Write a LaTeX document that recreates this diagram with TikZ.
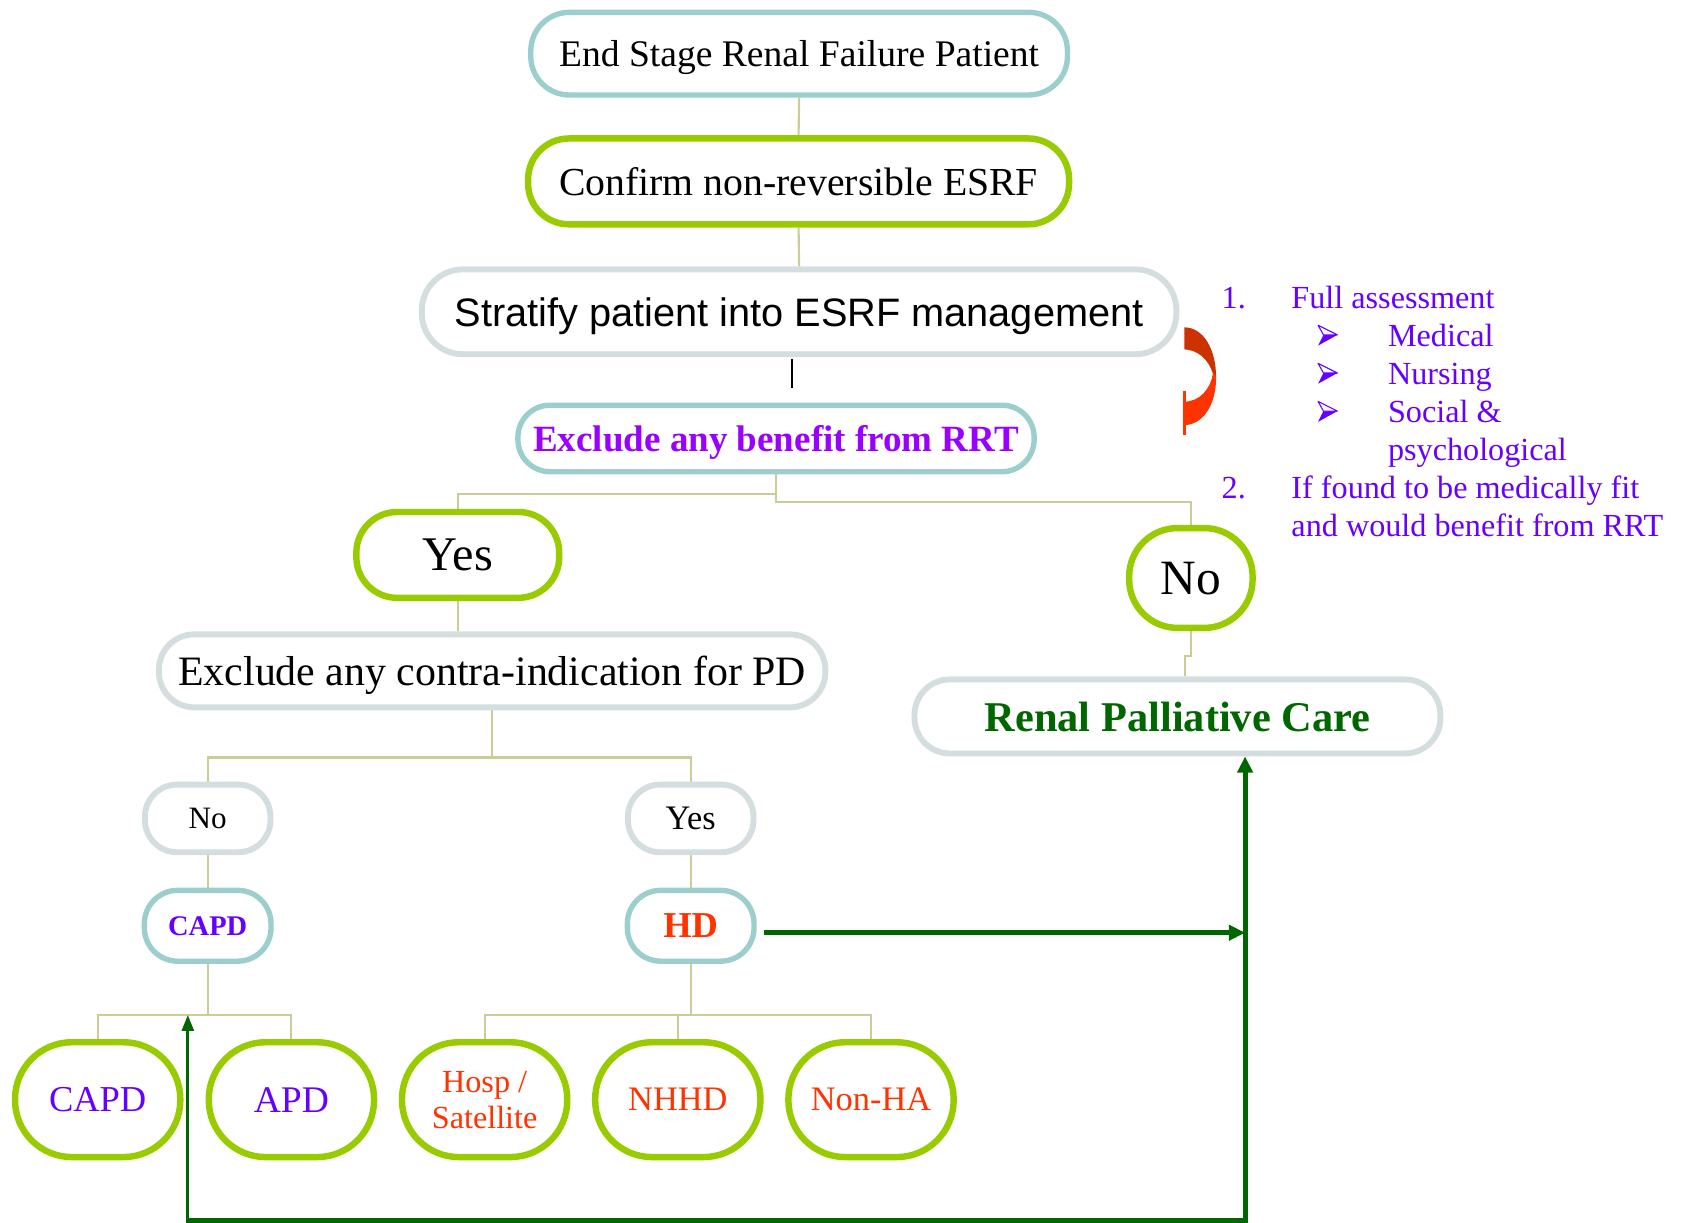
\documentclass[tikz,border=0pt]{standalone}
\usepackage{fontspec}
\setmainfont{Liberation Serif}
\setsansfont{Liberation Sans}
\usetikzlibrary{arrows.meta,backgrounds}

\definecolor{tealline}{HTML}{9CCECE}
\definecolor{limeline}{HTML}{99CC00}
\definecolor{greyline}{HTML}{D5DEDE}
\definecolor{linkline}{HTML}{CCCC99}
\definecolor{txtviolet}{HTML}{9900FF}
\definecolor{txtindigo}{HTML}{6600FF}
\definecolor{txtred}{HTML}{FF3300}
\definecolor{dkgreen}{HTML}{006600}
\definecolor{arcdark}{HTML}{CC3300}
\definecolor{arclight}{HTML}{FF3300}

\newcommand{\fsz}[1]{\fontsize{#1}{#1}\selectfont}

\begin{document}
\begin{tikzpicture}[x=1pt,y=-1pt,
  pill/.style={draw, fill=white, inner sep=0pt, align=center, text=black, text depth=0pt},
  tealpill/.style={pill, draw=tealline, line width=5pt},
  limepill/.style={pill, draw=limeline, line width=6pt},
  greypill/.style={pill, draw=greyline, line width=5.5pt},
  leaf/.style={limepill, minimum width=154pt, minimum height=107pt, rounded corners=53pt},
  link/.style={draw=linkline, line width=2pt},
  flow/.style={draw=dkgreen, line width=4.5pt, -{Triangle[length=15pt,width=14pt]}},
  listtxt/.style={anchor=base west, inner sep=0pt, text=txtindigo, font=\fsz{30}},
  pics/arrowbullet/.style={code={
    \fill[txtindigo] (0,0) -- (-13,0) -- (-18,10) -- cycle;
    \draw[txtindigo, line width=1pt, line join=round, fill=white] (0,0) -- (-18,-9) -- (-13,0) -- cycle;
  }}
]
\useasboundingbox (0,0) rectangle (1568,1139);

% main column
\node[tealpill, minimum width=500pt, minimum height=77pt, rounded corners=36pt, font=\fsz{35}]
  (esrf) at (744.5,50) {End Stage Renal Failure Patient};
\node[limepill, minimum width=504pt, minimum height=80pt, rounded corners=38pt, font=\fsz{37}]
  (confirm) at (744,169) {Confirm non-reversible ESRF};
\node[greypill, minimum width=703pt, minimum height=79pt, rounded corners=38pt, font=\sffamily\fsz{37}]
  (stratify) at (744.5,290.5) {Stratify patient into ESRF management};
\node[tealpill, minimum width=481pt, minimum height=62pt, rounded corners=30pt, font=\bfseries\fsz{34.5}, text=txtviolet]
  (benefit) at (723,408.5) {Exclude any benefit from RRT};

% first decision
\node[limepill, minimum width=189pt, minimum height=80pt, rounded corners=38pt, font=\fsz{45}]
  (yesrrt) at (426.5,517) {Yes};
\node[limepill, minimum width=115pt, minimum height=93pt, rounded corners=45pt, font=\fsz{46}]
  (norrt) at (1109.5,538.5) {No};
\node[greypill, minimum width=621pt, minimum height=68pt, rounded corners=33pt, font=\fsz{39}]
  (contra) at (458.5,625) {Exclude any contra-indication for PD};
\node[greypill, minimum width=490pt, minimum height=69pt, rounded corners=33pt, font=\bfseries\fsz{39.5}, text=dkgreen]
  (palliative) at (1097,667.5) {Renal Palliative Care};

% second decision
\node[greypill, minimum width=117pt, minimum height=63pt, rounded corners=30pt, font=\fsz{29}]
  (nopd) at (193.5,762.5) {No};
\node[greypill, minimum width=117pt, minimum height=63pt, rounded corners=30pt, font=\fsz{32}]
  (yespd) at (643.5,762.5) {Yes};
\node[tealpill, minimum width=118pt, minimum height=66pt, rounded corners=31pt, font=\bfseries\fsz{26.5}, text=txtindigo]
  (capd) at (193.5,862.5) {CAPD};
\node[tealpill, minimum width=118pt, minimum height=66pt, rounded corners=31pt, font=\bfseries\fsz{34}, text=txtred]
  (hd) at (643.5,862.5) {HD};

% treatment options
\node[leaf, font=\fsz{34}, text=txtindigo] (capdleaf) at (91,1024.5) {CAPD};
\node[leaf, font=\fsz{35}, text=txtindigo] (apd) at (271.5,1024.5) {APD};
\node[leaf, font=\fontsize{30}{34}\selectfont, text=txtred] (hosp) at (451.5,1024.5) {Hosp /\\Satellite};
\node[leaf, font=\fsz{32}, text=txtred] (nhhd) at (631.5,1024.5) {NHHD};
\node[leaf, font=\fsz{32}, text=txtred] (nonha) at (811.5,1024.5) {Non-HA};

% tree connectors
\begin{pgfonlayer}{background}
\draw[link] (esrf.south) -- (confirm.north);
\draw[link] (confirm.south) -- (stratify.north);
\draw[link] (benefit.south) -- ++(0,25.5) -| (norrt.north);
\draw[link] (benefit.south) ++(0,18.5) -| (yesrrt.north);
\draw[link] (benefit.south) -- ++(0,18.5);
\draw[link] (yesrrt.south) -- (yesrrt.south |- contra.north);
\draw[link] (norrt.south) -- ++(0,23) -| ([xshift=7pt]palliative.north);
\draw[link] (contra.south) -- ++(0,44) coordinate (pdfork);
\draw[link] (nopd.north) |- (pdfork) -| (yespd.north);
\draw[link] (nopd.south) -- (capd.north);
\draw[link] (yespd.south) -- (hd.north);
\draw[link] (capd.south) -- ++(0,47.5) coordinate (capdfork);
\draw[link] (capdleaf.north) |- (capdfork) -| (apd.north);
\draw[link] (hd.south) -- ++(0,47.5) coordinate (hdfork);
\draw[link] (hosp.north) |- (hdfork) -| (nonha.north);
\draw[link] (nhhd.north) -- (nhhd.north |- hdfork);
\end{pgfonlayer}

% short mark below the stratify box
\draw[black, line width=1.5pt] ([xshift=-6.5pt, yshift=-2pt]stratify.south) coordinate (mark) -- ++(0,27);

% referral paths to palliative care
\coordinate (rail) at (1160,1137);
\coordinate (railend) at (175,1137);
\draw[flow] (railend) -- (rail) -- (rail |- palliative.south);
\draw[flow] ([shift={(7,6.5)}]hd.east) coordinate (hdout) -- (hdout -| rail);
\draw[draw=dkgreen, line width=3pt, -{Triangle[length=15pt,width=11pt]}]
  ([yshift=-2.25pt]railend) -- (railend |- capdfork);

% curved arrow beside the stratify box
\fill[arcdark] (1103.5,305) .. controls (1121,305) and (1133,325) .. (1133,352)
  -- (1130,348) .. controls (1126,335) and (1116,326) .. (1103.5,325.5) -- cycle;
\fill[arclight] (1133,352) .. controls (1133,378) and (1120,396) .. (1103.5,396)
  -- (1103.5,374.3) .. controls (1118,374) and (1128,362) .. (1130,348) -- cycle;
\draw[arclight, line width=2pt] (1103.5,364) -- (1103.5,405.3);

% assessment notes
\node[listtxt] (num1) at (1138,287) {1.};
\node[listtxt] (full) at (1203,287) {Full assessment};
\pic (bul1) at (1246,312) {arrowbullet};
\node[listtxt] (medical) at (1293,322.5) {Medical};
\pic (bul2) at (1246,347.5) {arrowbullet};
\node[listtxt] (nursing) at (1293,358) {Nursing};
\pic (bul3) at (1246,383) {arrowbullet};
\node[listtxt] (social) at (1293,393.5) {Social \&};
\node[listtxt] (psych) at (1293,429) {psychological};
\node[listtxt] (num2) at (1138,464.5) {2.};
\node[listtxt] (fit) at (1203,464.5) {If found to be medically fit};
\node[listtxt] (fit2) at (1203,500) {and would benefit from RRT};
\end{tikzpicture}
\end{document}
